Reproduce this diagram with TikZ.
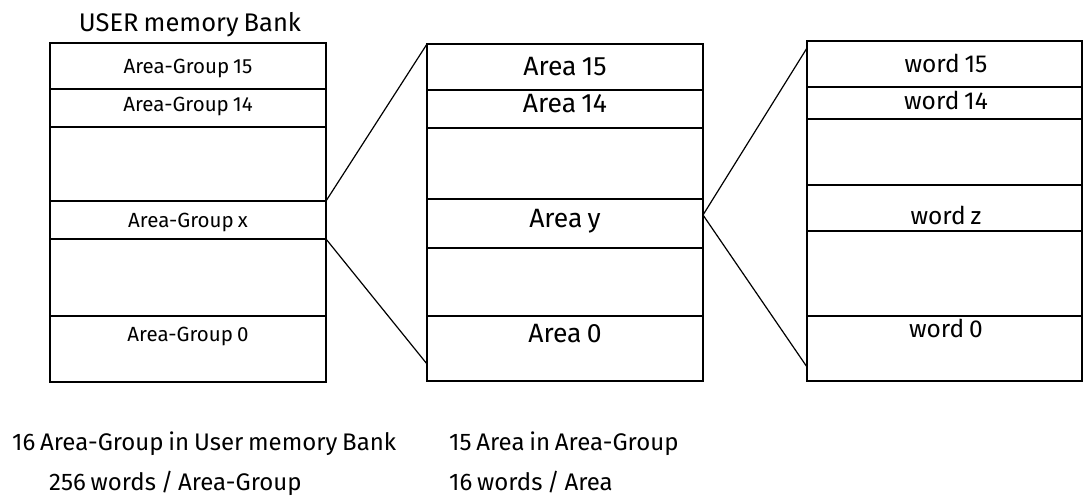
\documentclass[tikz,border=0pt]{standalone}
\usepackage{fontspec}
\setmainfont[WordSpace=0.75]{Fira Sans}
\begin{document}
\begin{tikzpicture}[x=1pt,y=-1pt,
  frame/.style={draw=black,line width=1.4pt},
  row/.style={draw=black,line width=1.2pt},
  link/.style={draw=black,line width=1.2pt},
  lbl/.style={anchor=base,inner sep=0pt,font=\fontsize{20.5}{22}\selectfont},
  mlbl/.style={anchor=base,inner sep=0pt,font=\fontsize{26.5}{28}\selectfont},
  rlbl/.style={anchor=base,inner sep=0pt,font=\fontsize{24.5}{26}\selectfont},
  note/.style={anchor=base west,inner sep=0pt,font=\fontsize{24}{26}\selectfont}]
\useasboundingbox (0,0) rectangle (1083,497);
% left box
\coordinate (L1) at (50,43); \coordinate (L2) at (326,382);
\draw[frame] (L1) rectangle (L2);
\foreach \y in {89,127,201,239,316} \draw[row] (50,\y) -- (326,\y);
\coordinate (Lx1) at (326,201); \coordinate (Lx2) at (326,239);
\node[anchor=base,inner sep=0pt,font=\fontsize{25.5}{27}\selectfont] (title) at (190,32) {USER memory Bank};
\node[lbl] (ag15) at (188,74) {Area-Group 15};
\node[lbl] (ag14) at (188,112) {Area-Group 14};
\node[lbl] (agx) at (188,227) {Area-Group x};
\node[lbl] (ag0) at (188,341) {Area-Group 0};
% middle box
\draw[frame] (427,44) rectangle (703,381);
\foreach \y in {90,128,199,248,316} \draw[row] (427,\y) -- (703,\y);
\coordinate (Mt) at (427,44); \coordinate (Mb) at (427,364);
\coordinate (My) at (703,215);
\node[mlbl] (a15) at (565,75.7) {Area 15};
\node[mlbl] (a14) at (565,113) {Area 14};
\node[mlbl] (ay) at (565,227) {Area y};
\node[mlbl] (a0) at (565,342) {Area 0};
% right box
\draw[frame] (807,41) rectangle (1082,381);
\foreach \y in {87,119,185,231,316} \draw[row] (807,\y) -- (1082,\y);
\coordinate (Rt) at (807,48); \coordinate (Rb) at (807,367);
\node[rlbl] (w15) at (946,72.7) {word 15};
\node[rlbl] (w14) at (946,110) {word 14};
\node[rlbl] (wz) at (946,224) {word z};
\node[rlbl] (w0) at (946,337) {word 0};
% connectors
\draw[link] (Lx1) -- (Mt);
\draw[link] (Lx2) -- (Mb);
\draw[link] (My) -- (Rt);
\draw[link] (My) -- (Rb);
% notes
\node[note] (n1) at (12,450) {16 Area-Group in User memory Bank};
\node[note] (n2) at (49,490) {256 words / Area-Group};
\node[note] (n3) at (449,450) {15 Area in Area-Group};
\node[note] (n4) at (449,490) {16 words / Area};
\end{tikzpicture}
\end{document}
